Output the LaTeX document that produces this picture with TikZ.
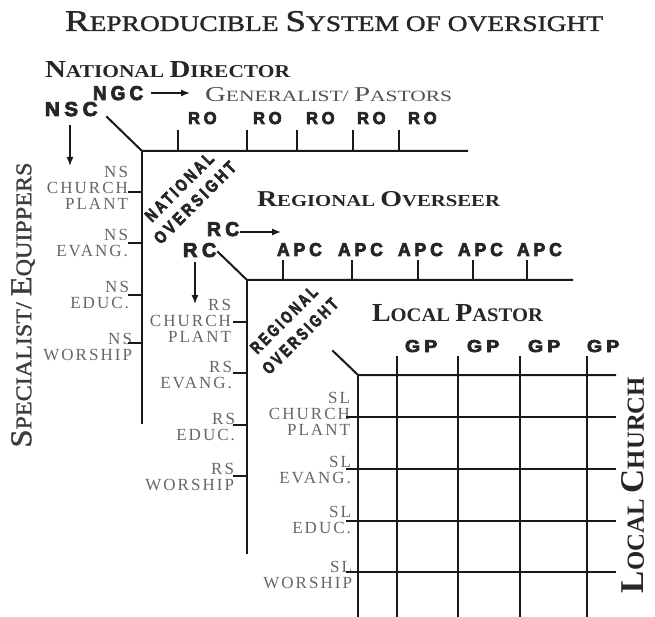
\documentclass[tikz,border=0pt]{standalone}
\usepackage{fontspec}
\usepackage{graphicx}
\setmainfont{Liberation Serif}
\newfontfamily\semifont[FakeBold=1.2]{Liberation Serif}
\newfontfamily\labfont[UprightFont={* Bold}, LetterSpace=22, FakeBold=4]{Liberation Sans}
\newfontfamily\grayfont[LetterSpace=12]{Liberation Serif}
\usetikzlibrary{arrows.meta}
\definecolor{labgray}{HTML}{666666}
\definecolor{hdark}{HTML}{262626}
\definecolor{gengray}{HTML}{505050}
\newcommand\fitbox[3]{\resizebox{#1pt}{#2pt}{\fontsize{10}{10}\selectfont #3}}
\newcommand\Bg[1]{{\fontsize{13.5}{13.5}\selectfont #1}}
\newcommand\blab[3]{\resizebox{#1pt}{#2pt}{\labfont\fontsize{10}{10}\selectfont #3\kern-0.22em}}
\begin{document}
\begin{tikzpicture}[x=1pt,y=-1pt,
  ln/.style={line width=2pt, color=black!90, line cap=rect},
  tk/.style={line width=1.7pt, color=black!90},
  arr/.style={line width=1.4pt, color=black!90, -{Latex[length=9pt,width=7pt]}},
  txt/.style={inner sep=0pt, outer sep=0pt},
  glab/.style={txt, anchor=north east, align=right, text=labgray, font=\grayfont\fontsize{17}{16}\selectfont},
  blk/.style={txt, text=black!85},
]
\useasboundingbox (0,0) rectangle (655,617);

% headings
\node[txt, anchor=base west, text=hdark] (title) at (65,31)
  {\fitbox{538}{20}{\semifont\Bg{R}EPRODUCIBLE \Bg{S}YSTEM OF OVERSIGHT}};
\node[txt, anchor=base west, text=hdark] (natdir) at (45,78)
  {\fitbox{245}{16}{\bfseries\Bg{N}ATIONAL \Bg{D}IRECTOR}};
\node[txt, anchor=base west, text=gengray] (gen) at (205,102)
  {\fitbox{247}{14}{\Bg{G}ENERALIST/ \Bg{P}ASTORS}};
\node[txt, anchor=base west, text=hdark] (regov) at (257,207)
  {\fitbox{243}{15}{\bfseries\Bg{R}EGIONAL \Bg{O}VERSEER}};
\node[txt, anchor=base west, text=hdark] (locp) at (372,321)
  {\fitbox{171}{17}{\bfseries\Bg{L}OCAL \Bg{P}ASTOR}};
\node[txt, rotate=90, text=hdark!90] (spec) at (23,305)
  {\fitbox{285}{20}{\semifont\Bg{S}PECIALIST/ \Bg{E}QUIPPERS}};
\node[txt, rotate=90, text=hdark] (locc) at (633,485)
  {\fitbox{216}{22}{\bfseries\Bg{L}OCAL \Bg{C}HURCH}};

% bold labels
\node[blk, anchor=base west] (ngc) at (93,100) {\blab{46}{14}{NGC}};
\node[blk, anchor=base west] (nsc) at (45,116) {\blab{48}{14}{NSC}};
\node[blk, anchor=base west] (rc1) at (207,236) {\blab{28}{14}{RC}};
\node[blk, anchor=base west] (rc2) at (183,257) {\blab{29}{14}{RC}};
\foreach \x [count=\i] in {188,253,306,357,408}
  \node[blk, anchor=base west] (ro\i) at (\x,124) {\blab{25}{12}{RO}};
\foreach \x [count=\i] in {277,338,398,458,517}
  \node[blk, anchor=base west] (apc\i) at (\x,256) {\blab{41}{13}{APC}};
\foreach \x [count=\i] in {405,467,528,587}
  \node[blk, anchor=base west] (gp\i) at (\x,352) {\blab{28}{12}{GP}};

\node[blk, rotate=45, align=center, font=\fontsize{10}{22}\selectfont] (natovs) at (186,196)
  {\blab{86}{12}{NATIONAL}\\\blab{105}{12}{OVERSIGHT}};
\node[blk, rotate=45, align=center, font=\fontsize{10}{23}\selectfont] (regovs) at (291,329)
  {\blab{84}{12}{REGIONAL}\\\blab{96}{12}{OVERSIGHT}};

% gray labels
\node[glab] (ns1) at (128,166) {NS\\CHURCH\\PLANT};
\node[glab] (ns2) at (128,229) {NS\\EVANG.};
\node[glab] (ns3) at (129,281) {NS\\EDUC.};
\node[glab] (ns4) at (132,333) {NS\\WORSHIP};
\node[glab] (rs1) at (231,299) {RS\\CHURCH\\PLANT};
\node[glab] (rs2) at (232,361) {RS\\EVANG.};
\node[glab] (rs3) at (235,413) {RS\\EDUC.};
\node[glab] (rs4) at (234,463) {RS\\WORSHIP};
\node[glab] (sl1) at (350,392) {SL\\CHURCH\\PLANT};
\node[glab] (sl2) at (351,456) {SL\\EVANG.};
\node[glab] (sl3) at (351,506) {SL\\EDUC.};
\node[glab] (sl4) at (352,561) {SL\\WORSHIP};

% arrows
\coordinate (ngcA) at (151,93);  \coordinate (ngcB) at (190,93);
\coordinate (nscA) at (70,125);  \coordinate (nscB) at (70,166);
\coordinate (rc1A) at (240,232); \coordinate (rc1B) at (281,232);
\coordinate (rc2A) at (195,262); \coordinate (rc2B) at (195,304);
\draw[arr] (ngcA) -- (ngcB);
\draw[arr] (nscA) -- (nscB);
\draw[arr] (rc1A) -- (rc1B);
\draw[arr] (rc2A) -- (rc2B);

% national frame
\coordinate (nD) at (107,117); \coordinate (nC) at (142,151);
\coordinate (nR) at (467,151); \coordinate (nB) at (142,423);
\draw[ln] (nD) -- (nC) -- (nR);
\draw[ln] (nC) -- (nB);
\foreach \x in {178,247,297,353,399} \draw[tk] (\x,130) -- (\x,151);
\foreach \y in {192,243,295,343} \draw[tk] (128,\y) -- (142,\y);

% regional frame
\coordinate (rD) at (218,252); \coordinate (rC) at (247,280);
\coordinate (rR) at (572,280); \coordinate (rB) at (247,553);
\draw[ln] (rD) -- (rC) -- (rR);
\draw[ln] (rC) -- (rB);
\foreach \x in {283,352,418,473,527} \draw[tk] (\x,260) -- (\x,280);
\foreach \y in {322,373,425,476} \draw[tk] (233,\y) -- (247,\y);

% local grid
\coordinate (lD) at (333,351); \coordinate (lC) at (358,375);
\coordinate (lR) at (615,375); \coordinate (lB) at (358,617);
\draw[ln] (lD) -- (lC) -- (lR);
\draw[ln] (lC) -- (lB);
\foreach \x in {397,458,520,587} \draw[ln] (\x,357) -- (\x,617);
\foreach \y in {417,469,521,572} \draw[ln] (347,\y) -- (615,\y);
\end{tikzpicture}
\end{document}
